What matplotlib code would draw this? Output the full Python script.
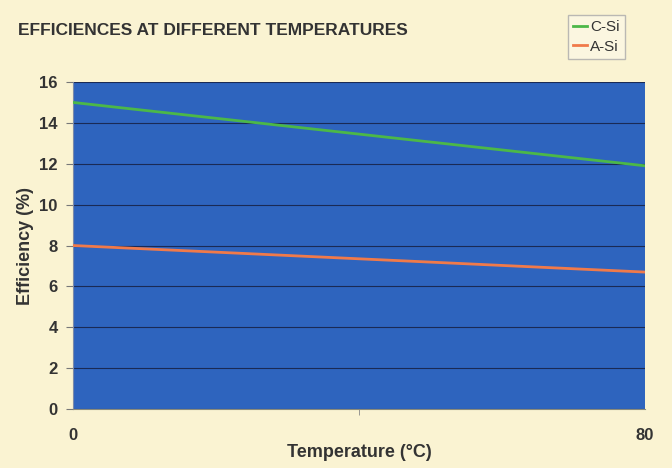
import matplotlib
matplotlib.use("Agg")
import matplotlib.pyplot as plt
from matplotlib import font_manager

temps = [0, 80]
c_si = [15.0, 11.9]
a_si = [8.0, 6.7]
series_names = ["C-Si", "A-Si"]
y_ticks = [0, 2, 4, 6, 8, 10, 12, 14, 16]
x_tick_labels = ["0", "80"]

names = {f.name for f in font_manager.fontManager.ttflist}
fam = ["Liberation Sans Narrow"] if "Liberation Sans Narrow" in names else ["Liberation Sans"]
plt.rcParams['font.family'] = fam + ["DejaVu Sans"]

bg = "#FAF3D2"
fig = plt.figure(figsize=(6.72, 4.68), dpi=100, facecolor=bg)
ax = fig.add_axes([0.1086, 0.126, 0.8514, 0.6988])
ax.set_facecolor("#2E64BE")

ax.plot(temps, c_si, color="#4CB848", lw=2, label=series_names[0], zorder=3)
ax.plot(temps, a_si, color="#F07A4A", lw=2, label=series_names[1], zorder=3)

ax.set_xlim(0, 80)
ax.set_ylim(0, 16)
ax.set_yticks(y_ticks)
ax.set_yticklabels([str(v) for v in y_ticks], fontsize=12, fontweight="bold", color="#333333")
ax.set_xticks([0, 80])
ax.set_xticklabels(x_tick_labels, fontsize=12, fontweight="bold", color="#333333")
ax.set_xticks([40], minor=True)
ax.tick_params(axis="x", which="major", length=0, pad=14)
ax.tick_params(axis="x", which="minor", length=4, color="#888888")
ax.tick_params(axis="y", length=5, color="#777777", pad=6)
ax.grid(axis="y", color="#1A2A55", lw=0.8)
ax.set_axisbelow(True)
for s in ["top", "right"]:
    ax.spines[s].set_visible(False)
ax.spines["left"].set_color("#7A8AAA")
ax.spines["bottom"].set_color("#8A8A7A")

ax.set_xlabel("Temperature (°C)", fontsize=13, fontweight="bold", color="#333333")
ax.xaxis.set_label_coords(0.5, -0.108)
ax.set_ylabel("Efficiency (%)", fontsize=13, fontweight="bold", color="#333333")
ax.yaxis.set_label_coords(-0.068, 0.5)

fig.text(0.027, 0.935, "EFFICIENCES AT DIFFERENT TEMPERATURES", fontsize=12.5,
         fontweight="bold", color="#333333", va="center", ha="left")

leg = fig.legend(loc="upper left", bbox_to_anchor=(0.845, 0.968), fontsize=11,
                 handlelength=0.9, handletextpad=0.2, borderpad=0.35, labelspacing=0.35,
                 frameon=True, fancybox=False, borderaxespad=0)
leg.get_frame().set_facecolor("#FCF8E4")
leg.get_frame().set_edgecolor("#AAAAAA")
for t in leg.get_texts():
    t.set_color("#333333")

fig.savefig("out.png", dpi=100, facecolor=bg)
